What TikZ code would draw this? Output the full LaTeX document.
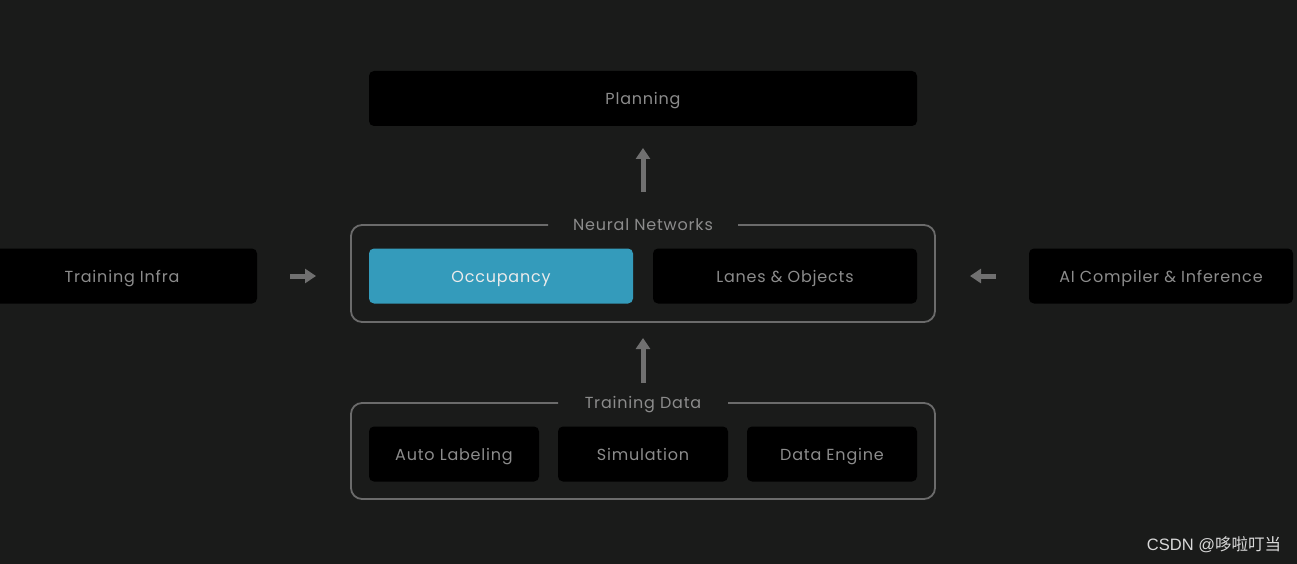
\documentclass[tikz,border=0pt]{standalone}
\usepackage{fontspec}
\setmainfont{Poppins}[LetterSpace=5]
\newfontfamily\cjk{Noto Sans CJK SC}
\newfontfamily\wmfont{Liberation Sans}
\usetikzlibrary{arrows.meta}
\definecolor{bgc}{HTML}{1A1B1A}
\definecolor{txt}{HTML}{8C8C8C}
\definecolor{frm}{HTML}{6B6B6B}
\definecolor{arr}{HTML}{707070}
\definecolor{occ}{HTML}{349BBB}
\tikzset{
  x=1pt,y=-1pt,
  blk/.style={fill=black,rounded corners=5pt,text=txt,font=\fontsize{16}{18}\selectfont,inner sep=0pt,minimum height=55pt,text height=13pt,text depth=0pt},
  frame/.style={draw=frm,line width=1.8pt,rounded corners=11pt},
  flabel/.style={text=txt,font=\fontsize{16}{18}\selectfont,inner sep=0pt,text height=13pt,text depth=0pt},
  bigarrow/.style={draw=arr,line width=5pt,-{Triangle[width=14pt,length=11pt]}}
}
\begin{document}
\begin{tikzpicture}
\fill[bgc] (0,0) rectangle (1297,564);
\useasboundingbox (0,0) rectangle (1297,564);
% Planning
\node[blk,minimum width=548pt] (plan) at (643,98.5) {Planning};
% Neural networks frame
\draw[frame] (548,225) -| (351,322) -| (935,225) -- (738,225);
\node[flabel] (nn) at (643,224) {Neural Networks};
\node[blk,fill=occ,text=white!92!black,minimum width=264pt] (occ) at (501,276) {Occupancy};
\node[blk,minimum width=264pt] (lanes) at (785,276) {Lanes \& Objects};
\node[blk,minimum width=270pt] (infra) at (122,276) {Training Infra};
\node[blk,minimum width=264pt] (aic) at (1161,276) {AI Compiler \& Inference};
% Training data frame
\draw[frame] (558,403) -| (351,499) -| (935,403) -- (728,403);
\node[flabel] (td) at (643,402) {Training Data};
\node[blk,minimum width=170pt] (auto) at (454,454) {Auto Labeling};
\node[blk,minimum width=170pt] (sim) at (643,454) {Simulation};
\node[blk,minimum width=170pt] (de) at (832,454) {Data Engine};
% arrows
\coordinate (a1s) at (643,192);
\coordinate (a1e) at (643,148);
\draw[bigarrow] (a1s) -- (a1e);
\coordinate (a2s) at (643,383);
\coordinate (a2e) at (643,338);
\draw[bigarrow] (a2s) -- (a2e);
\coordinate (a3s) at (290,276);
\coordinate (a3e) at (316,276);
\draw[bigarrow] (a3s) -- (a3e);
\coordinate (a4s) at (996,276);
\coordinate (a4e) at (970,276);
\draw[bigarrow] (a4s) -- (a4e);
% watermark
\node[text=white!85!black,font=\fontsize{16.5}{18}\selectfont,inner sep=0pt] (wm) at (1214,545) {\wmfont CSDN @\cjk 哆啦叮当};
\end{tikzpicture}
\end{document}
